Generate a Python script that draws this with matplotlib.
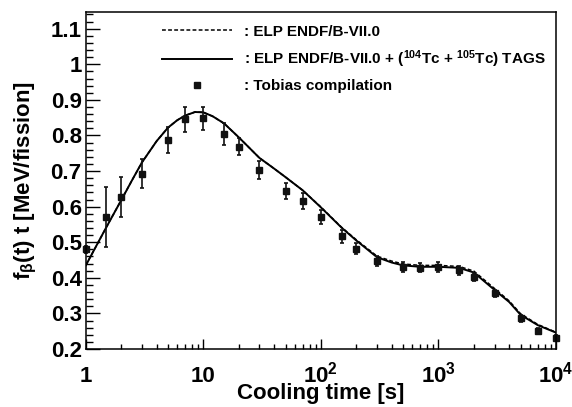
import matplotlib
matplotlib.use('Agg')
import matplotlib.pyplot as plt
from matplotlib.lines import Line2D
import numpy as np

plt.rcParams['font.family'] = ['Liberation Sans', 'DejaVu Sans']
plt.rcParams['font.weight'] = 'bold'
plt.rcParams['mathtext.fontset'] = 'custom'
plt.rcParams['mathtext.default'] = 'bf'
plt.rcParams['mathtext.bf'] = 'Liberation Sans:bold'
plt.rcParams['mathtext.rm'] = 'Liberation Sans:bold'
plt.rcParams['mathtext.it'] = 'Liberation Sans:bold'

# Tobias compilation (data points)
t_tob = [1, 1.5, 2, 3, 5, 7, 10, 15, 20, 30, 50, 70, 100, 150, 200, 300,
         500, 700, 1000, 1500, 2000, 3000, 5000, 7000, 10000]
f_tob = [0.48, 0.571, 0.626, 0.693, 0.787, 0.845, 0.848, 0.804, 0.768, 0.703,
         0.644, 0.615, 0.571, 0.517, 0.482, 0.446, 0.431, 0.429, 0.431, 0.421,
         0.402, 0.356, 0.286, 0.25, 0.232]
e_tob = [0.01, 0.085, 0.056, 0.04, 0.037, 0.036, 0.033, 0.03, 0.024, 0.025,
         0.022, 0.022, 0.02, 0.018, 0.016, 0.014, 0.014, 0.014, 0.014, 0.012,
         0.012, 0.01, 0.01, 0.008, 0.008]

# ELP curves
t_curve = [1, 1.5, 2, 2.5, 3, 4, 5, 6, 7, 8.5, 10, 12, 15, 20, 30, 40, 50, 70,
           100, 150, 200, 300, 400, 500, 700, 1000, 1500, 2000, 3000, 4000,
           5000, 7000, 10000]
f_tags = [0.435, 0.543, 0.618, 0.677, 0.724, 0.784, 0.822, 0.843, 0.856, 0.866,
          0.865, 0.854, 0.834, 0.795, 0.737, 0.707, 0.683, 0.646, 0.598, 0.541,
          0.505, 0.458, 0.443, 0.435, 0.431, 0.431, 0.428, 0.415, 0.366, 0.332,
          0.296, 0.267, 0.246]
f_endf = [0.435, 0.543, 0.618, 0.677, 0.724, 0.784, 0.822, 0.843, 0.856, 0.866,
          0.865, 0.854, 0.834, 0.795, 0.737, 0.707, 0.683, 0.646, 0.599, 0.542,
          0.507, 0.461, 0.447, 0.439, 0.435, 0.435, 0.432, 0.419, 0.370, 0.335,
          0.299, 0.269, 0.247]

xticks = [1, 10, 100, 1000, 10000]
xticklabels = ['1', '10', r'$10^{2}$', r'$10^{3}$', r'$10^{4}$']
yticks = [0.2, 0.3, 0.4, 0.5, 0.6, 0.7, 0.8, 0.9, 1.0, 1.1]
yticklabels = ['0.2', '0.3', '0.4', '0.5', '0.6', '0.7', '0.8', '0.9', '1', '1.1']

fig = plt.figure(figsize=(5.72, 4.07), dpi=100)
ax = fig.add_axes([0.150, 0.1425, 0.822, 0.828])

l1, = ax.plot(t_curve, f_endf, color='black', lw=1.1, ls=(0, (2.5, 1.5)),
              label=': ELP ENDF/B-VII.0')
l2, = ax.plot(t_curve, f_tags, color='black', lw=1.4,
              label=r': ELP ENDF/B-VII.0 + ($^{104}$Tc + $^{105}$Tc) TAGS')
eb = ax.errorbar(t_tob, f_tob, yerr=e_tob, fmt='s', color='#111111', ms=5,
                 elinewidth=1.2, capsize=1.5, capthick=1.2)
for art in eb.get_children():
    art.set_clip_on(False)
h3 = Line2D([], [], marker='s', ls='none', color='#111111', ms=5,
            label=': Tobias compilation')

ax.set_xscale('log')
ax.set_xlim(1, 10000)
ax.set_ylim(0.2, 1.147)
ax.set_xticks(xticks)
ax.set_xticklabels(xticklabels)
ax.set_yticks(yticks)
ax.set_yticklabels(yticklabels)
ax.yaxis.set_minor_locator(matplotlib.ticker.MultipleLocator(0.02))
ax.xaxis.set_minor_locator(matplotlib.ticker.LogLocator(base=10, subs=np.arange(2, 10)))
ax.xaxis.set_minor_formatter(matplotlib.ticker.NullFormatter())

ax.tick_params(axis='both', which='both', direction='in', top=False, right=False,
               labelsize=16, width=1.0)
ax.tick_params(axis='x', which='major', length=7, pad=24)
ax.tick_params(axis='x', which='minor', length=3.6)
ax.tick_params(axis='y', which='major', length=10, pad=3)
ax.tick_params(axis='y', which='minor', length=5)
for lab in ax.get_xticklabels():
    lab.set_verticalalignment('baseline')
for s in ax.spines.values():
    s.set_linewidth(1.1)

ax.set_xlabel('Cooling time [s]', fontsize=16, fontweight='bold')
ax.xaxis.set_label_coords(0.499, -0.101)
ax.set_ylabel(r'f$_{β}$(t) t [MeV/fission]', fontsize=16, fontweight='bold')
ax.yaxis.set_label_coords(-0.10, 0.5)

ax.legend(handles=[l1, l2, h3], loc='upper left', bbox_to_anchor=(0.162, 0.962),
          frameon=False, fontsize=11, borderpad=0, borderaxespad=0,
          handlelength=4.6, handletextpad=0.8, labelspacing=0.62)

fig.savefig('out.png', dpi=100)
